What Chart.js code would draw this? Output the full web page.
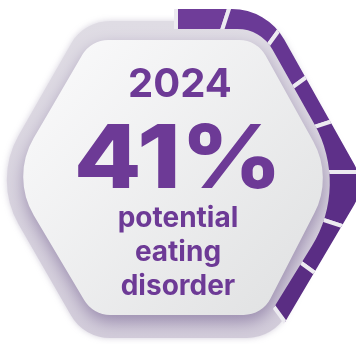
<!DOCTYPE html>
<html>
<head>
<meta charset="utf-8">
<script src="https://cdn.jsdelivr.net/npm/chart.js@4.4.1/dist/chart.umd.min.js"></script>
<style>
  html, body { margin:0; padding:0; background:#ffffff; }
  #stage { position:relative; width:356px; height:344px; overflow:hidden; background:#ffffff; }
  #wrap { position:absolute; left:-144px; top:-148px; width:640px; height:640px; }
  .lbl { position:absolute; left:0; width:356px; text-align:center; color:#6d3a96;
         font-family:Inter, "Open Sans", sans-serif; font-weight:700; white-space:nowrap; }
  #year { top:63px; left:2px; font-size:40px; line-height:40px; }
  #pct  { top:112px; left:0px; font-size:88px; line-height:88px; font-weight:800; transform:scaleX(1.12); transform-origin:178px 50%; }
  #desc { top:200px; left:0px; font-size:28px; line-height:34px; }
</style>
</head>
<body>
<div id="stage">
  <div id="wrap"><canvas id="c" width="640" height="640"></canvas></div>
  <div class="lbl" id="year"></div>
  <div class="lbl" id="pct"></div>
  <div class="lbl" id="desc"></div>
</div>
<script>
// ---- data ----
const yearLabel = "2024";
const headlineValue = 41;
const descriptionLines = ["potential", "eating", "disorder"];
const filledSegments = [5, 5, 5, 5, 5, 5, 5, 5];   // purple ring pieces (% of full turn)
const remainderShare = [60];                        // unfilled part of the ring

document.getElementById('year').textContent = yearLabel;
document.getElementById('pct').textContent = headlineValue + '%';
document.getElementById('desc').innerHTML = descriptionLines.join('<br>');

// ---- geometry (page coordinates) ----
const OX = 144, OY = 148;
const grayHex  = [[84,21,45],[274,21,45],[357,180,90],[274,338,45],[84,338,45],[-7,180,90]];
const whiteHex = [[91,40,30],[257,40,30],[333,177,76],[262,315,30],[93,315,30],[11,177,76]];
const bandOuter = [[89,9,60],[267,9,60],[366,185,40],[262,361,60],[95,361,60],[-10,185,40]];
const bandInner = [[95,29,40],[261,29,40],[349,186,120],[252,343,40],[105,343,40],[8,186,120]];

function roundedPoly(ctx, pts) {
  const n = pts.length, a = pts[n-1], b = pts[0];
  ctx.moveTo((a[0]+b[0])/2 + OX, (a[1]+b[1])/2 + OY);
  for (let i = 0; i < n; i++) {
    const p = pts[i], q = pts[(i+1) % n];
    ctx.arcTo(p[0]+OX, p[1]+OY, (p[0]+q[0])/2 + OX, (p[1]+q[1])/2 + OY, p[2]);
  }
  ctx.closePath();
}

const hexBackground = {
  id: 'hexBackground',
  beforeDatasetsDraw(chart) {
    const ctx = chart.ctx;
    ctx.save();
    ctx.beginPath(); roundedPoly(ctx, grayHex);
    let g = ctx.createLinearGradient(0, 21+OY, 0, 338+OY);
    g.addColorStop(0, '#dfdce4'); g.addColorStop(1, '#d2ccda');
    ctx.shadowColor = 'rgba(120,105,145,0.3)'; ctx.shadowBlur = 6;
    ctx.fillStyle = g; ctx.fill();
    ctx.restore();
    ctx.save();
    ctx.beginPath(); roundedPoly(ctx, whiteHex);
    ctx.shadowColor = 'rgba(85,60,120,0.45)'; ctx.shadowBlur = 16; ctx.shadowOffsetY = 7; ctx.shadowOffsetX = 1;
    g = ctx.createLinearGradient(40+OX, 50+OY, 310+OX, 310+OY);
    g.addColorStop(0, '#fafafb'); g.addColorStop(1, '#e0e1e2');
    ctx.fillStyle = g; ctx.fill();
    ctx.restore();
  }
};

const bandClip = {
  id: 'bandClip',
  beforeDatasetDraw(chart) {
    const ctx = chart.ctx;
    ctx.save();
    ctx.beginPath();
    roundedPoly(ctx, bandOuter);
    roundedPoly(ctx, bandInner);
    ctx.clip('evenodd');
  },
  afterDatasetDraw(chart) { chart.ctx.restore(); }
};

const segColors = ['#6f3d99','#6a3a96','#663692','#62338e','#5e3089','#5b2e86','#5a2d84','#5a2d83'];

new Chart(document.getElementById('c'), {
  type: 'doughnut',
  data: {
    labels: filledSegments.map((_, i) => 'segment ' + (i+1)).concat(['rest']),
    datasets: [{
      data: filledSegments.concat(remainderShare),
      backgroundColor: segColors.concat(['rgba(0,0,0,0)']),
      borderColor: '#eceaf0',
      borderWidth: (c) => c.dataIndex < filledSegments.length ? 4 : 0,
      borderJoinStyle: 'miter'
    }]
  },
  options: {
    responsive: false,
    devicePixelRatio: 1,
    animation: false,
    cutout: 100,
    radius: 310,
    layout: { padding: 0 },
    plugins: { legend: { display: false }, tooltip: { enabled: false }, title: { display: false } }
  },
  plugins: [hexBackground, bandClip]
});
</script>
</body>
</html>
